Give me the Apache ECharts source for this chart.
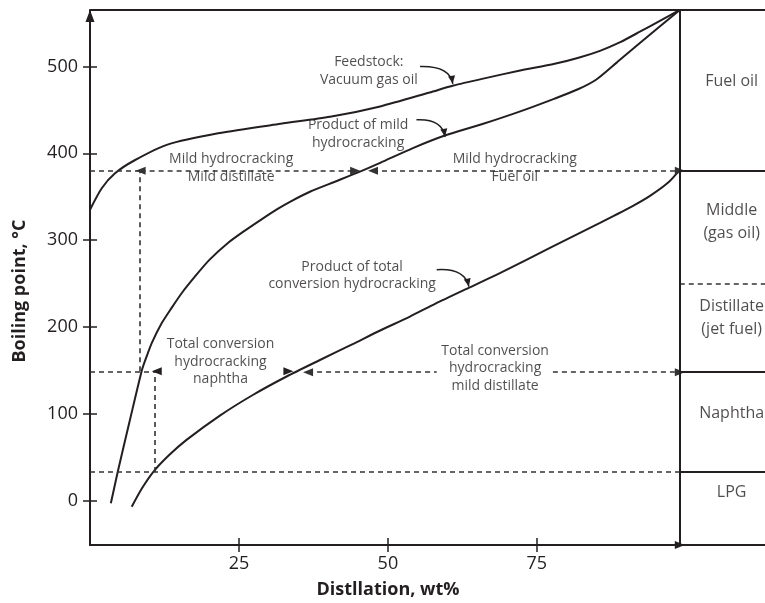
<!DOCTYPE html>
<html>
<head>
<meta charset="utf-8">
<script src="https://cdn.jsdelivr.net/npm/echarts@6.0.0/dist/echarts.min.js"></script>
<style>
html, body { margin: 0; padding: 0; background: #fff; }
#chart { width: 765px; height: 603px; }
</style>
</head>
<body>
<div id="chart"></div>
<script>
// 曲线数据：横轴 馏出量 wt%，纵轴 沸点 °C
const feedstock = [[0,335],[2,360],[4.2,377],[7.5,392],[13,410],[21.5,423],[32,434],[40.3,442],[48.7,454],[57,470],[61,478],[66,486],[72,495],[78,503],[82,510],[85.6,518],[89,528],[92.3,540],[95.5,552],[99,565]];
const mildProduct = [[3.5,-3],[4.65,33],[6.6,90],[8.7,150],[9.5,166],[10.4,182],[12,204],[13.7,222],[15.5,240],[17.6,258],[20,277],[23.2,297],[26,311],[28.8,324],[31.5,336],[33.8,345],[37,356],[41,367],[45,378],[48.7,389],[54.2,406],[59.8,421],[66,434],[72.1,448],[78,463],[82,474],[85,485],[88.5,505],[92.3,527],[99,565]];
const totalProduct = [[7,-7],[8.7,14],[10.6,33],[13.2,52],[16.2,70],[21.8,98],[27.4,122],[33,143],[38.6,162],[44,180],[48.7,196],[53.7,212],[58,227],[62.9,243],[68.8,262],[77.2,291],[85.6,320],[91,339],[94,351],[97,366],[99,381]];

// 坐标轴刻度
const xTicks = [25, 50, 75];
const yTicks = [0, 100, 200, 300, 400, 500];
const yMin = -51, yMax = 565;
const cutX = 99, xEnd = 113.3;

// 右侧产品分区
const panelNames = ['Fuel oil', 'Middle\n(gas oil)', 'Distillate\n(jet fuel)', 'Naphtha', 'LPG'];
const panelMid = [483, 321, 210, 101, 10];
const panelX = 107.7;
const panelCuts = [380, 149, 33];
const panelDashed = [250];

// 虚线辅助线
const guideH = [[0, 8.5, 380], [0, 10.8, 149], [0, 99, 33]];
const guideV = [[8.4, 149, 380], [10.8, 33, 149]];
const rangeArrows = [[8.5, 44.5, 380], [47.5, 99, 380]];
const leftArrows = [[36.6, 58.2, 148]];
const rightArrows = [[77.7, 99, 148]];
const bareArrows = [[11.2, 33.3, 149]];

// 注释文字
const noteTexts = ['Feedstock:\nVacuum gas oil', 'Product of mild\nhydrocracking', 'Mild hydrocracking\nMild distillate', 'Mild hydrocracking\nFuel oil', 'Product of total\nconversion hydrocracking', 'Total conversion\nhydrocracking\nnaphtha', 'Total conversion\nhydrocracking\nmild distillate'];
const noteAt = [[46.8, 495], [45, 422], [23.7, 383], [71.3, 383], [44, 259], [21.9, 160], [68, 152.6]];
// 弯箭头：起点、控制点、终点
const pointers = [
    [[55.4, 500], [60.4, 501], [60.9, 480]],
    [[54.8, 438.6], [59.1, 440], [59.6, 419]],
    [[58.2, 266], [62.9, 268], [63.6, 246.5]]
];

const ink = '#231f20';
const font = '"Open Sans", "DejaVu Sans", sans-serif';

var chart = echarts.init(document.getElementById('chart'));

function seg(a, b, s1, s2) {
    return [{ coord: a, symbol: s1 }, { coord: b, symbol: s2 }];
}

var guideData = [];
guideH.forEach(function (g) { guideData.push(seg([g[0], g[2]], [g[1], g[2]], 'none', 'none')); });
guideV.forEach(function (g) { guideData.push(seg([g[0], g[1]], [g[0], g[2]], 'none', 'none')); });
rangeArrows.forEach(function (g) { guideData.push(seg([g[0], g[2]], [g[1], g[2]], 'triangle', 'triangle')); });
leftArrows.forEach(function (g) { guideData.push(seg([g[0], g[2]], [g[1], g[2]], 'triangle', 'none')); });
rightArrows.forEach(function (g) { guideData.push(seg([g[0], g[2]], [g[1], g[2]], 'none', 'triangle')); });
panelDashed.forEach(function (v) { guideData.push(seg([cutX, v], [xEnd, v], 'none', 'none')); });

var frameData = [
    [{ coord: [0, yMax], symbol: 'none' }, { coord: [xEnd, yMax], symbol: 'none' }],
    [{ coord: [cutX, yMin], symbol: 'none' }, { coord: [cutX, yMax], symbol: 'none' }]
];
panelCuts.forEach(function (v) { frameData.push(seg([cutX, v], [xEnd, v], 'none', 'none')); });

var bareData = [];
bareArrows.forEach(function (g) { bareData.push(seg([g[0], g[2]], [g[1], g[2]], 'triangle', 'triangle')); });
bareData.push(seg([cutX - 5, yMin], [cutX, yMin], 'none', 'triangle'));

function curve(name, data) {
    return {
        name: name, type: 'line', data: data, smooth: 0.25, symbol: 'none',
        lineStyle: { color: ink, width: 2 }, silent: true, animation: false
    };
}

function marks(name, data, style) {
    return {
        name: name, type: 'line', data: [], silent: true, animation: false,
        markLine: {
            silent: true, animation: false, symbolSize: [8, 10],
            label: { show: false }, lineStyle: style, data: data
        }
    };
}

var axisBase = {
    type: 'value', splitLine: { show: false }
};

var option = {
    animation: false,
    grid: { left: 90, right: 0, top: 10, bottom: 58, containLabel: false, outerBoundsMode: 'none' },
    xAxis: [
        Object.assign({}, axisBase, {
            position: 'bottom', min: 0, max: xEnd,
            axisLine: { show: true, onZero: false, lineStyle: { color: ink, width: 2 } },
            axisTick: { show: true, length: 7, customValues: xTicks, lineStyle: { color: ink, width: 1.5 } },
            axisLabel: { customValues: xTicks, color: ink, fontSize: 18, fontFamily: font, margin: 10 }
        }),
        Object.assign({}, axisBase, {
            position: 'bottom', min: 0, max: xEnd,
            axisLine: { show: false, onZero: false },
            axisTick: { show: true, inside: true, length: 7, customValues: xTicks, lineStyle: { color: ink, width: 1.5 } },
            axisLabel: { show: false }
        })
    ],
    yAxis: [
        Object.assign({}, axisBase, {
            position: 'left', min: yMin, max: yMax,
            axisLine: { show: true, onZero: false, symbol: ['none', 'triangle'], symbolSize: [9, 12], symbolOffset: [0, -6], lineStyle: { color: ink, width: 2 } },
            axisTick: { show: true, length: 7, customValues: yTicks, lineStyle: { color: ink, width: 1.5 } },
            axisLabel: { customValues: yTicks, color: ink, fontSize: 18, fontFamily: font, margin: 12 }
        }),
        Object.assign({}, axisBase, {
            position: 'left', min: yMin, max: yMax,
            axisLine: { show: false, onZero: false },
            axisTick: { show: true, inside: true, length: 7, customValues: yTicks, lineStyle: { color: ink, width: 1.5 } },
            axisLabel: { show: false }
        })
    ],
    graphic: [
        { type: 'text', x: 20, y: 291, rotation: Math.PI / 2, style: { text: 'Boiling point, °C', font: 'bold 18px ' + font, fill: ink, align: 'center', verticalAlign: 'middle', textAlign: 'center', textVerticalAlign: 'middle' } },
        { type: 'text', x: 388, y: 590, style: { text: 'Distllation, wt%', font: 'bold 18px ' + font, fill: ink, align: 'center', verticalAlign: 'middle', textAlign: 'center', textVerticalAlign: 'middle' } }
    ],
    series: [
        curve('Feedstock', feedstock),
        curve('Mild', mildProduct),
        curve('Total', totalProduct),
        marks('guides', guideData, { color: '#333', width: 1.6, type: [5, 4] }),
        marks('frame', frameData, { color: ink, width: 2, type: 'solid' }),
        marks('bare', bareData, { color: ink, width: 0, type: 'solid' }),
        {
            name: 'panel', type: 'scatter', symbolSize: 0, silent: true, animation: false,
            data: panelNames.map(function (n, i) { return { value: [panelX, panelMid[i]], name: n }; }),
            label: { show: true, position: 'inside', formatter: '{b}', color: ink, fontSize: 16, lineHeight: 23, fontFamily: font }
        },
        {
            name: 'notes', type: 'scatter', symbolSize: 0, silent: true, animation: false,
            data: noteTexts.map(function (n, i) { return { value: noteAt[i], name: n }; }),
            label: { show: true, position: 'inside', formatter: '{b}', color: ink, fontSize: 14, lineHeight: 17.5, fontFamily: font }
        }
    ]
};

chart.setOption(option);

// 画弯箭头
var px = function (p) { return chart.convertToPixel({ gridIndex: 0 }, p); };
var extra = [];
pointers.forEach(function (pt) {
    var S = px(pt[0]), C = px(pt[1]), E = px(pt[2]);
    extra.push({ type: 'bezierCurve', silent: true, shape: { x1: S[0], y1: S[1], x2: E[0], y2: E[1], cpx1: C[0], cpy1: C[1] }, style: { stroke: ink, lineWidth: 1.5, fill: 'none' } });
    var ang = Math.atan2(E[1] - C[1], E[0] - C[0]);
    var L = 8, W = 3.5;
    var bx = E[0] - L * Math.cos(ang), by = E[1] - L * Math.sin(ang);
    extra.push({ type: 'polygon', silent: true, shape: { points: [[E[0], E[1]], [bx - W * Math.sin(ang), by + W * Math.cos(ang)], [bx + W * Math.sin(ang), by - W * Math.cos(ang)]] }, style: { fill: ink } });
});
chart.setOption({ graphic: option.graphic.concat(extra) });
</script>
</body>
</html>
